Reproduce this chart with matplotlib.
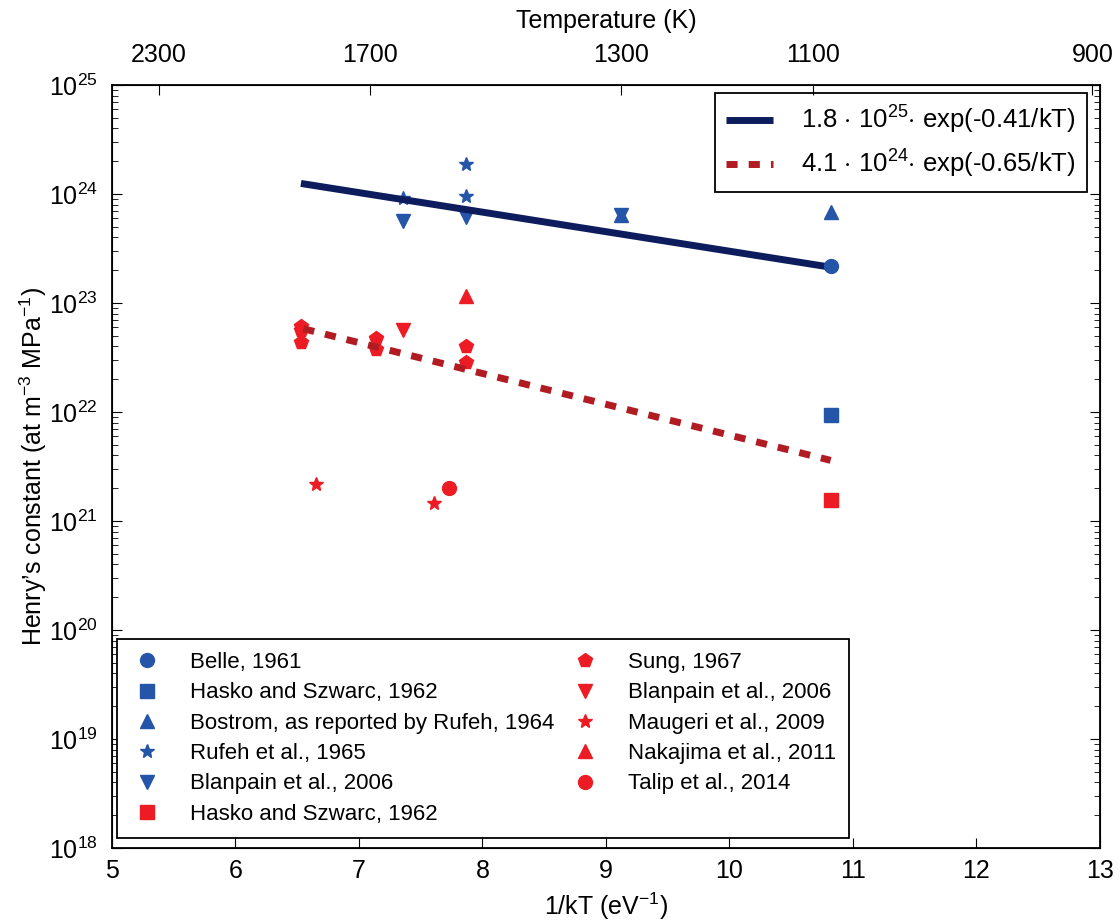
import matplotlib
matplotlib.use('Agg')
import matplotlib.pyplot as plt

fam = 'Liberation Sans'
plt.rcParams['font.family'] = [fam, 'DejaVu Sans']
plt.rcParams['mathtext.fontset'] = 'custom'
plt.rcParams['mathtext.rm'] = fam
plt.rcParams['mathtext.it'] = fam

# colours
blue = '#2455a8'
red = '#ed1c24'
navy = '#0d1c5c'
darkred = '#b01c22'

# data (x = 1/kT in eV^-1, y = Henry's constant)
belle_x = [10.82]
belle_y = [2.2e23]
hasko_b_x = [10.82]
hasko_b_y = [9.3e21]
bostrom_x = [9.12, 10.82]
bostrom_y = [6.4e23, 6.8e23]
rufeh_x = [7.36, 7.87, 7.87]
rufeh_y = [9.2e23, 1.9e24, 9.5e23]
blanpain_b_x = [7.36, 7.87, 9.12]
blanpain_b_y = [5.7e23, 6.1e23, 6.4e23]
hasko_r_x = [10.82]
hasko_r_y = [1.55e21]
sung_x = [6.53, 6.53, 6.53, 7.14, 7.14, 7.87, 7.87]
sung_y = [6.2e22, 5.6e22, 4.4e22, 4.8e22, 3.8e22, 4.0e22, 2.9e22]
blanpain_r_x = [7.36]
blanpain_r_y = [5.6e22]
maugeri_x = [6.65, 7.61]
maugeri_y = [2.2e21, 1.45e21]
nakajima_x = [7.87]
nakajima_y = [1.15e23]
talip_x = [7.73]
talip_y = [2.0e21]

# fit lines (endpoints)
fit1_x = [6.53, 10.82]
fit1_y = [1.25e24, 2.13e23]
fit2_x = [6.55, 10.82]
fit2_y = [5.8e22, 3.6e21]

# top axis
temp_labels = ['2300', '1700', '1300', '1100', '900']
temp_pos = [5.38, 7.09, 9.12, 10.68, 12.94]

fig = plt.figure(figsize=(11.2, 9.22), dpi=100)
ax = fig.add_axes([0.1, 0.0803, 0.882, 0.8275])

l1, = ax.plot(fit1_x, fit1_y, color=navy, lw=5, solid_capstyle='butt', zorder=3)
l2, = ax.plot(fit2_x, fit2_y, color=darkred, lw=5, ls=(0, (1.6, 1.6)), zorder=3)

ms = 10
h = []
h.append(ax.plot(belle_x, belle_y, 'o', color=blue, ms=ms, mec=blue, label='Belle, 1961', zorder=4)[0])
h.append(ax.plot(hasko_b_x, hasko_b_y, 's', color=blue, ms=ms, mec=blue, label='Hasko and Szwarc, 1962')[0])
h.append(ax.plot(bostrom_x, bostrom_y, '^', color=blue, ms=ms, mec=blue, label='Bostrom, as reported by Rufeh, 1964')[0])
h.append(ax.plot(rufeh_x, rufeh_y, '*', color=blue, ms=ms, mec=blue, label='Rufeh et al., 1965')[0])
h.append(ax.plot(blanpain_b_x, blanpain_b_y, 'v', color=blue, ms=ms, mec=blue, label='Blanpain et al., 2006')[0])
h.append(ax.plot(hasko_r_x, hasko_r_y, 's', color=red, ms=ms, mec=red, label='Hasko and Szwarc, 1962')[0])
h.append(ax.plot(sung_x, sung_y, 'p', color=red, ms=ms, mec=red, label='Sung, 1967')[0])
h.append(ax.plot(blanpain_r_x, blanpain_r_y, 'v', color=red, ms=ms, mec=red, label='Blanpain et al., 2006')[0])
h.append(ax.plot(maugeri_x, maugeri_y, '*', color=red, ms=ms, mec=red, label='Maugeri et al., 2009')[0])
h.append(ax.plot(nakajima_x, nakajima_y, '^', color=red, ms=ms, mec=red, label='Nakajima et al., 2011')[0])
h.append(ax.plot(talip_x, talip_y, 'o', color=red, ms=ms, mec=red, label='Talip et al., 2014')[0])

ax.set_yscale('log')
ax.set_xlim(5, 13)
ax.set_ylim(1e18, 1e25)
ax.set_xticks(range(5, 14))
ax.tick_params(which='both', direction='in', top=False, right=True, labelsize=18)
ax.tick_params(which='major', length=7)
ax.tick_params(which='minor', length=4)
ax.tick_params(axis='x', pad=8)
ax.tick_params(axis='y', pad=10)
for s in ax.spines.values():
    s.set_linewidth(1.3)
ax.set_xlabel('1/kT (eV$^{-1}$)', fontsize=18)
ax.xaxis.set_label_coords(0.5, -0.056)
ax.set_ylabel('Henry\u2019s constant (at m$^{-3}$ MPa$^{-1}$)', fontsize=18, labelpad=0)

top = ax.twiny()
top.set_xlim(ax.get_xlim())
top.set_xticks(temp_pos)
top.set_xticklabels(temp_labels)
top.tick_params(direction='in', length=7, labelsize=18, pad=13)
top.set_xlabel('Temperature (K)', fontsize=18, labelpad=11)

leg1 = ax.legend([l1, l2], ['1.8 $\\cdot$ 10$^{25}$$\\cdot$ exp(-0.41/kT)',
                            '4.1 $\\cdot$ 10$^{24}$$\\cdot$ exp(-0.65/kT)'],
                 loc='upper right', bbox_to_anchor=(0.987, 0.99), fontsize=18.5,
                 handlelength=1.8, handletextpad=1.1, fancybox=False,
                 edgecolor='black', framealpha=1, borderaxespad=0,
                 borderpad=0.45, labelspacing=0.45)
leg1.get_frame().set_linewidth(1.3)
ax.add_artist(leg1)

leg2 = ax.legend(handles=h, loc='lower left', bbox_to_anchor=(0.005, 0.013), ncol=2,
                 fontsize=16, fancybox=False, edgecolor='black', framealpha=1,
                 handlelength=1.5, handletextpad=1.2, labelspacing=0.42,
                 columnspacing=0.6, borderpad=0.6, borderaxespad=0, numpoints=1)
leg2.get_frame().set_linewidth(1.3)

fig.savefig('out.png', dpi=100)
